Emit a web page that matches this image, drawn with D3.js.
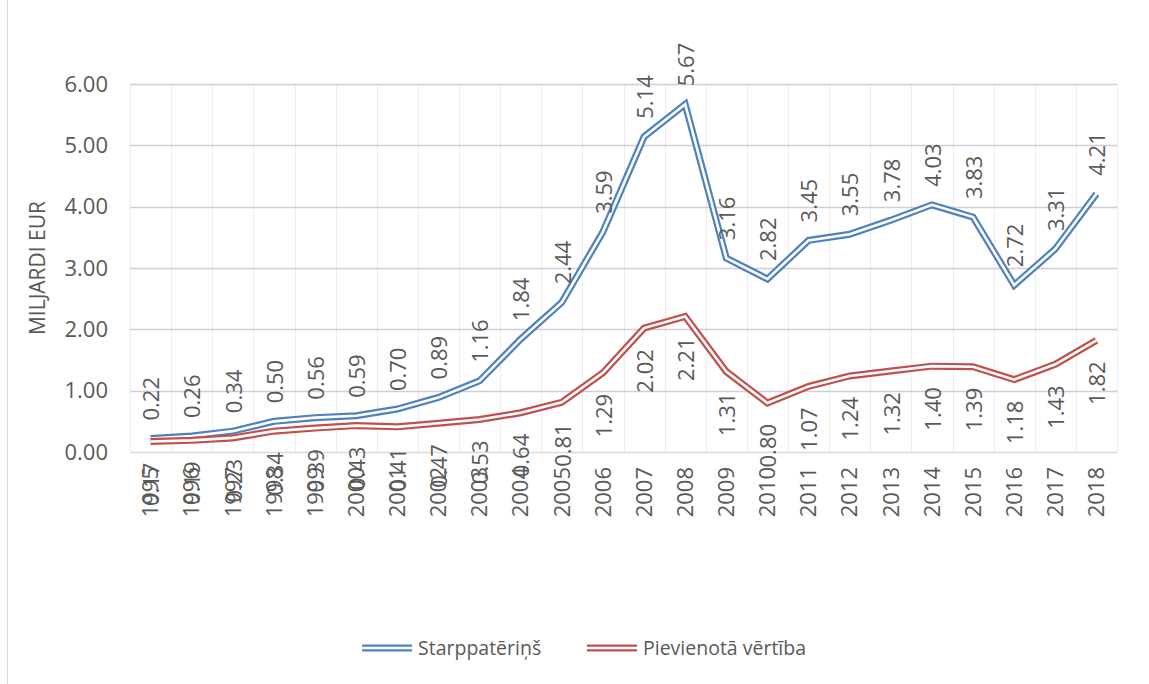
<!DOCTYPE html>
<html>
<head>
<meta charset="utf-8">
<script src="https://cdn.jsdelivr.net/npm/d3@7"></script>
<style>
  body { margin: 0; background: #fff; }
  svg text { font-family: "Open Sans", "Liberation Sans", sans-serif; fill: #595959; }
</style>
</head>
<body>
<svg id="chart" width="1149" height="684"></svg>
<script>
var years = ["1995","1996","1997","1998","1999","2000","2001","2002","2003","2004","2005","2006",
             "2007","2008","2009","2010","2011","2012","2013","2014","2015","2016","2017","2018"];
var starppateris = [0.22,0.26,0.34,0.50,0.56,0.59,0.70,0.89,1.16,1.84,2.44,3.59,
                    5.14,5.67,3.16,2.82,3.45,3.55,3.78,4.03,3.83,2.72,3.31,4.21];
var pievienota = [0.17,0.19,0.23,0.34,0.39,0.43,0.41,0.47,0.53,0.64,0.81,1.29,
                  2.02,2.21,1.31,0.80,1.07,1.24,1.32,1.40,1.39,1.18,1.43,1.82];
var yTicks = [0,1,2,3,4,5,6];
var seriesNames = ["Starppatēriņš", "Pievienotā vērtība"];
var colors = ["#4f81bd", "#c0504d"];

var svg = d3.select("#chart");

// left edge of chart frame
svg.append("line").attr("x1", 7.5).attr("x2", 7.5).attr("y1", 0).attr("y2", 684)
  .attr("stroke", "#d9d9d9");

var x = d3.scaleBand().domain(years).range([130, 1117]);
var y = d3.scaleLinear().domain([0, 6]).range([452, 84]);

// vertical gridlines (category boundaries)
svg.append("g").selectAll("line")
  .data(d3.range(years.length + 1))
  .enter().append("line")
  .attr("x1", function(i) { return Math.round(130 + i * x.bandwidth()) + 0.5; })
  .attr("x2", function(i) { return Math.round(130 + i * x.bandwidth()) + 0.5; })
  .attr("y1", y(6)).attr("y2", y(0))
  .attr("stroke", "#ececec");

// horizontal gridlines
svg.append("g").selectAll("line")
  .data(yTicks)
  .enter().append("line")
  .attr("x1", 130).attr("x2", 1117)
  .attr("y1", function(d) { return Math.round(y(d)) + 0.5; })
  .attr("y2", function(d) { return Math.round(y(d)) + 0.5; })
  .attr("stroke", function(d) { return d === 0 ? "#d9d9d9" : "#d3cbdc"; })
  .attr("stroke-width", 1.5);

// y axis labels
svg.append("g").selectAll("text")
  .data(yTicks)
  .enter().append("text")
  .attr("x", 108).attr("y", function(d) { return y(d); })
  .attr("dy", "0.35em")
  .attr("text-anchor", "end")
  .style("font-size", "22px")
  .text(function(d) { return d3.format(".2f")(d); });

svg.append("text")
  .attr("transform", "translate(45,268) rotate(-90)")
  .attr("text-anchor", "middle")
  .style("font-size", "21px")
  .text("MILJARDI EUR");

// x axis labels
svg.append("g").selectAll("text")
  .data(years)
  .enter().append("text")
  .attr("transform", function(d) {
    return "translate(" + (x(d) + x.bandwidth() / 2) + ",467) rotate(-90)";
  })
  .attr("text-anchor", "end")
  .attr("dy", "0.35em")
  .style("font-size", "22px")
  .text(function(d) { return d; });

var line = d3.line()
  .x(function(d, i) { return x(years[i]) + x.bandwidth() / 2; })
  .y(function(d) { return y(d); });

[starppateris, pievienota].forEach(function(vals, k) {
  svg.append("path").datum(vals).attr("d", line)
    .attr("fill", "none").attr("stroke", colors[k]).attr("stroke-width", 7)
    .attr("stroke-linejoin", "miter");
  svg.append("path").datum(vals).attr("d", line)
    .attr("fill", "none").attr("stroke", "#fff").attr("stroke-width", 2.6)
    .attr("stroke-linejoin", "miter");
});

// data labels: blue above, red below
svg.append("g").selectAll("text")
  .data(starppateris)
  .enter().append("text")
  .attr("transform", function(d, i) {
    return "translate(" + (x(years[i]) + x.bandwidth() / 2 + 1) + "," + (y(d) - 18) + ") rotate(-90)";
  })
  .attr("text-anchor", "start")
  .attr("dy", "0.35em")
  .style("font-size", "22px")
  .text(function(d) { return d3.format(".2f")(d); });

svg.append("g").selectAll("text")
  .data(pievienota)
  .enter().append("text")
  .attr("transform", function(d, i) {
    return "translate(" + (x(years[i]) + x.bandwidth() / 2 + 1) + "," + (y(d) + 21) + ") rotate(-90)";
  })
  .attr("text-anchor", "end")
  .attr("dy", "0.35em")
  .style("font-size", "22px")
  .text(function(d) { return d3.format(".2f")(d); });

// legend
var legendX = [362, 587];
seriesNames.forEach(function(name, k) {
  var g = svg.append("g").attr("transform", "translate(" + legendX[k] + ",648)");
  g.append("line").attr("x1", 0).attr("x2", 50).attr("stroke", colors[k]).attr("stroke-width", 7);
  g.append("line").attr("x1", 0).attr("x2", 50).attr("stroke", "#fff").attr("stroke-width", 2.6);
  g.append("text").attr("x", 56).attr("dy", "0.35em").style("font-size", "19.5px").text(name);
});
</script>
</body>
</html>
